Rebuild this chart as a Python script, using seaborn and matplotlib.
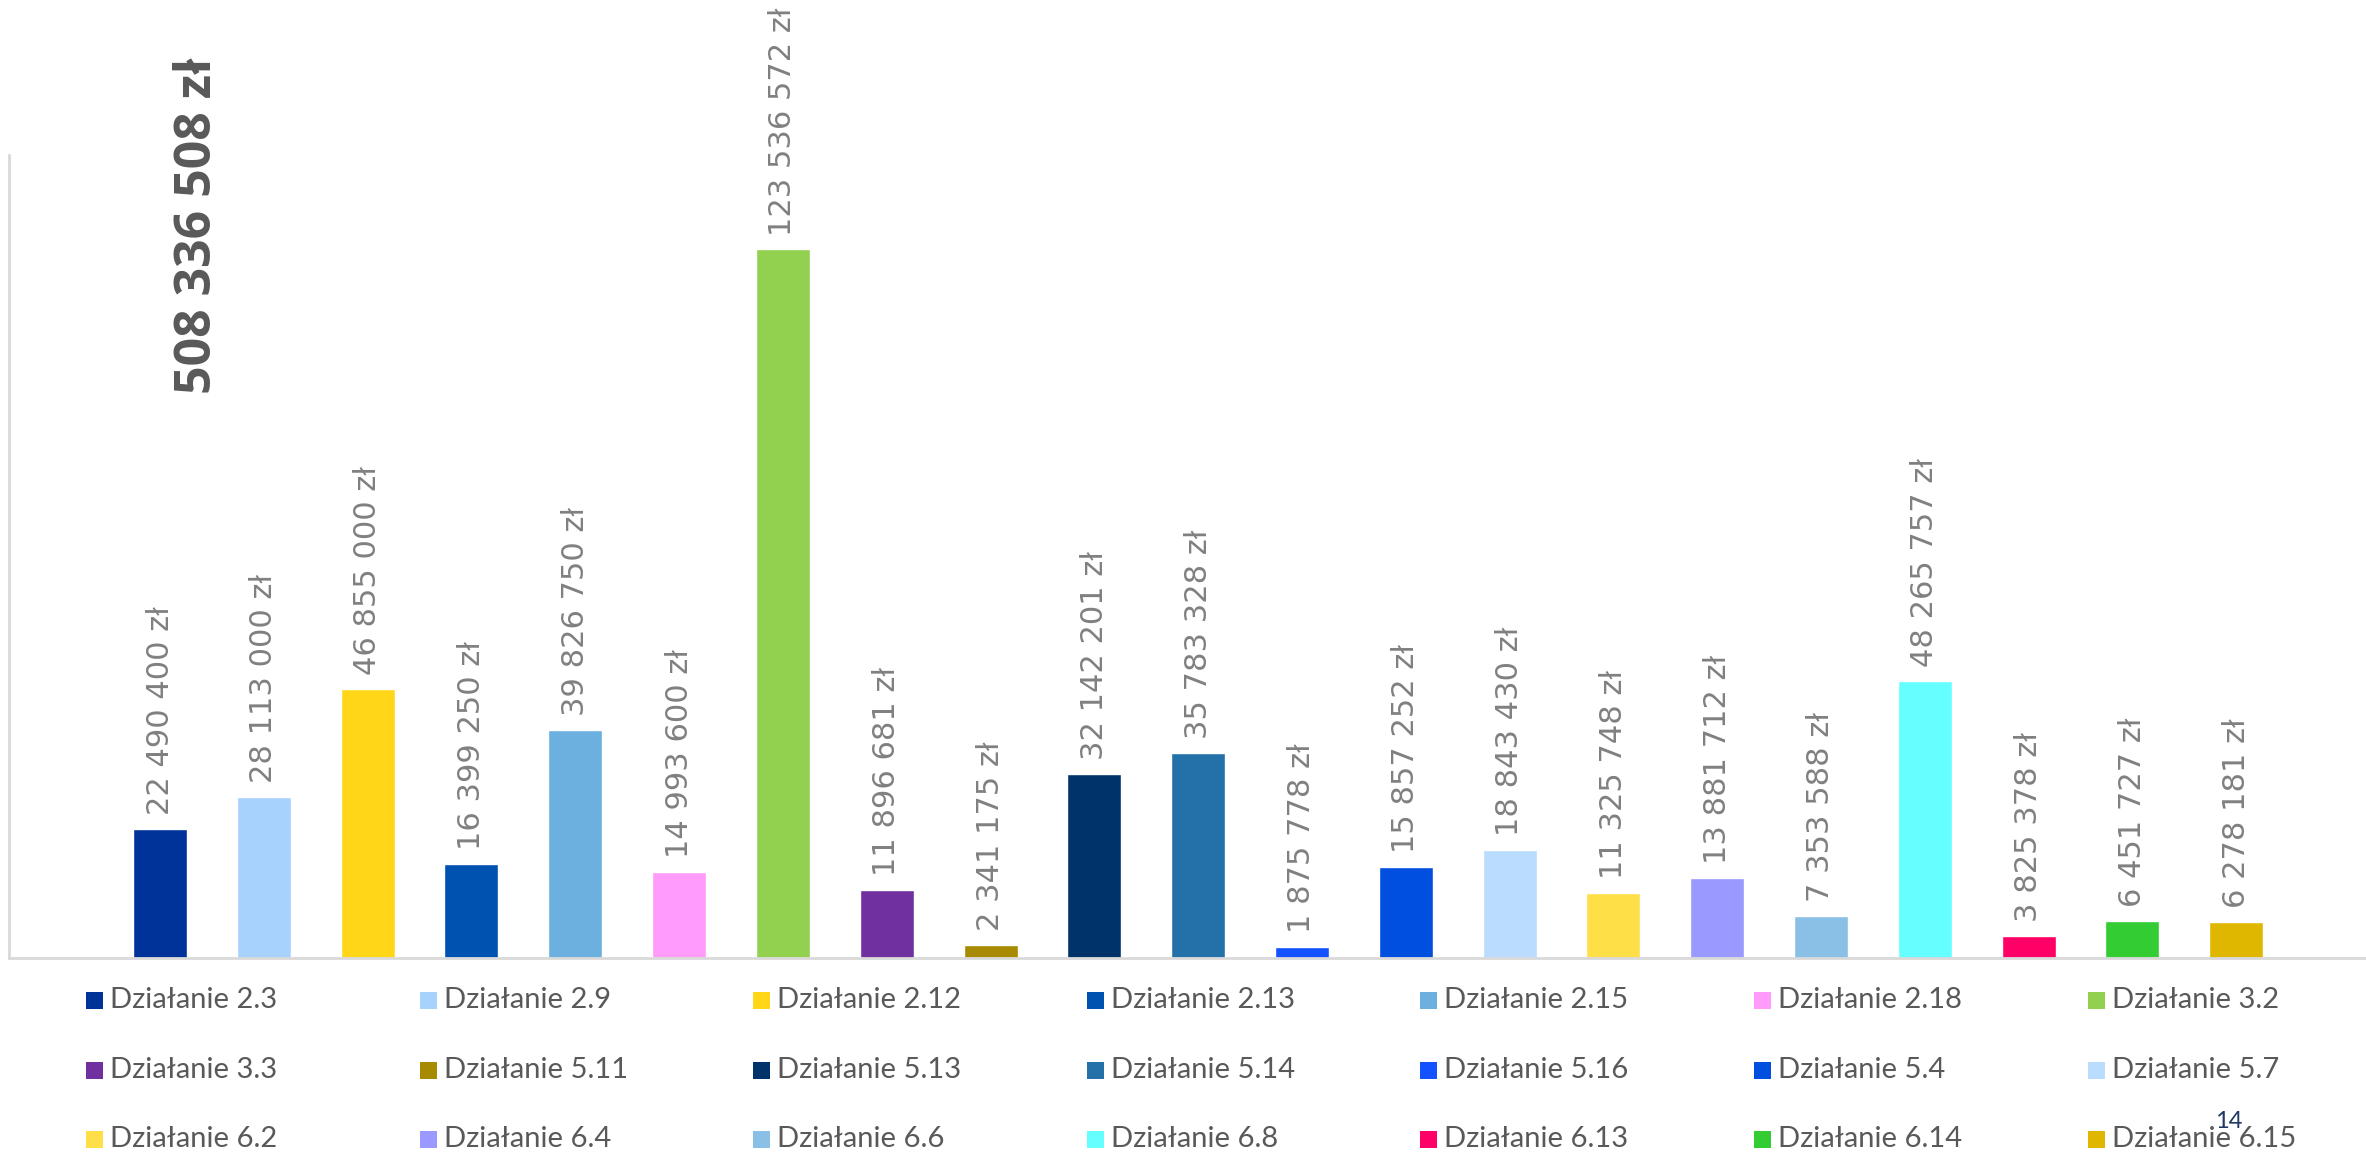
import matplotlib
matplotlib.use("Agg")
import matplotlib.pyplot as plt
from matplotlib.patches import Rectangle
import seaborn as sns

sns.set_theme(style="white")
plt.rcParams['font.family'] = ['DejaVu Sans']

# Data
actions = ['Działanie 2.3', 'Działanie 2.9', 'Działanie 2.12', 'Działanie 2.13',
           'Działanie 2.15', 'Działanie 2.18', 'Działanie 3.2', 'Działanie 3.3',
           'Działanie 5.11', 'Działanie 5.13', 'Działanie 5.14', 'Działanie 5.16',
           'Działanie 5.4', 'Działanie 5.7', 'Działanie 6.2', 'Działanie 6.4',
           'Działanie 6.6', 'Działanie 6.8', 'Działanie 6.13', 'Działanie 6.14',
           'Działanie 6.15']
amounts = [22490400, 28113000, 46855000, 16399250, 39826750, 14993600, 123536572,
           11896681, 2341175, 32142201, 35783328, 1875778, 15857252, 18843430,
           11325748, 13881712, 7353588, 48265757, 3825378, 6451727, 6278181]
colors = ['#003399', '#A8D2FE', '#FFD618', '#0052B0', '#6CB0E0', '#FF9BFB', '#92D050',
          '#7030A0', '#A88A00', '#00336A', '#2471A9', '#1452FF', '#004FDF', '#B9DCFF',
          '#FFDF47', '#9999FF', '#8BC0E6', '#66FFFF', '#FF0066', '#33CC33', '#DFB700']


def fmt(v):
    return f"{v:,}".replace(",", " ") + " zł"


fig = plt.figure(figsize=(23.66, 11.52), dpi=100)
W, H = 2366, 1152
ax = fig.add_axes([9 / W, (H - 958) / H, 1 - 9 / W, (958 - 155) / H])

sns.barplot(x=actions, y=amounts, hue=actions, palette=colors, width=0.52,
            legend=False, ax=ax, saturation=1)

ax.set_xlim(-1.455, 21.25)
ax.set_ylim(0, 140e6)
ax.set_xticks([])
ax.set_yticks([])
ax.set_xlabel('')
ax.set_ylabel('')
for s in ['top', 'right']:
    ax.spines[s].set_visible(False)
for s in ['left', 'bottom']:
    ax.spines[s].set_color('#D9D9D9')
    ax.spines[s].set_linewidth(2)

# value labels above bars
for i, v in enumerate(amounts):
    ax.annotate(fmt(v), (i, v), xytext=(0, 10), textcoords='offset points',
                rotation=90, ha='center', va='bottom', fontsize=22,
                color='#808080', annotation_clip=False)

# total
fig.text(198 / W, 1 - 226 / H, fmt(sum(amounts)), rotation=90, ha='center',
         va='center', fontsize=36, fontweight='bold', color='#595959',
         family=['Open Sans', 'DejaVu Sans'])

# legend, laid out row by row
for i, (name, col) in enumerate(zip(actions, colors)):
    r, c = divmod(i, 7)
    x0 = 86 + c * 333.6
    yc = [1000, 1070, 1139][r]
    fig.add_artist(Rectangle((x0 / W, 1 - (yc + 8.5) / H), 17 / W, 17 / H,
                             transform=fig.transFigure, color=col, lw=0))
    fig.text((x0 + 24) / W, 1 - yc / H, name, ha='left', va='center',
             fontsize=21, color='#595959', family=['Lato', 'DejaVu Sans'])

# page number
fig.text(2229 / W, 1 - 1122 / H, '14', ha='center', va='center', fontsize=17,
         color='#203864', family=['Lato', 'DejaVu Sans'])

plt.savefig('out.png', dpi=100)
